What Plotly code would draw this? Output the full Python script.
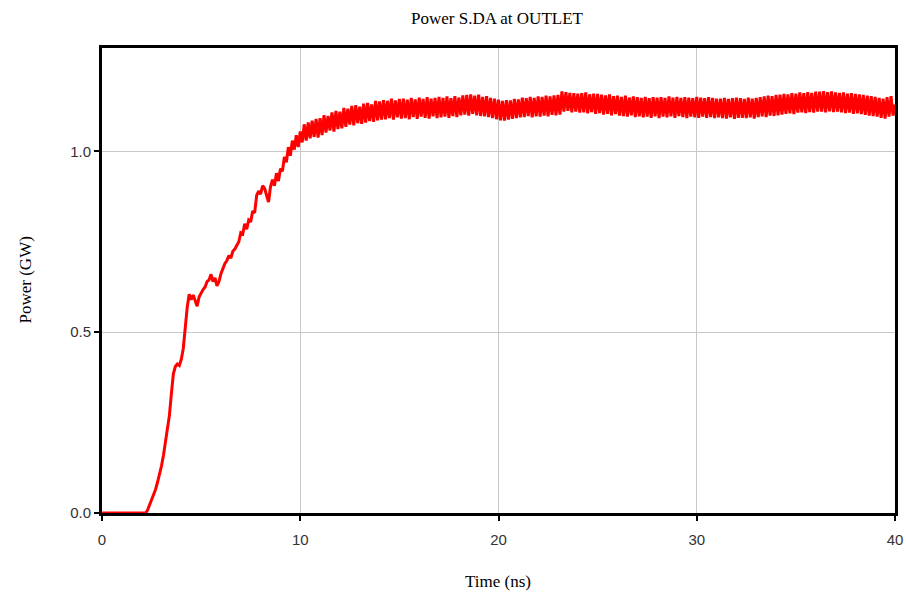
import plotly.graph_objects as go

# Power samples every 0.1 ns starting at t = 0 ns (GW)
power_flat = [0.0] * 22  # t = 0.0 .. 2.1 ns

power_rise = [
    0.000, 0.008, 0.022, 0.035, 0.050, 0.065, 0.085, 0.105, 0.130, 0.160,
    0.195, 0.225, 0.270, 0.330, 0.385, 0.405, 0.412, 0.408, 0.425, 0.455,
    0.520, 0.570, 0.605, 0.590, 0.603, 0.585, 0.572, 0.598, 0.610, 0.618,
    0.625, 0.640, 0.645, 0.660, 0.640, 0.650, 0.628, 0.640, 0.662, 0.678,
    0.690, 0.698, 0.712, 0.705, 0.724, 0.730, 0.742, 0.750, 0.775, 0.772,
    0.800, 0.785, 0.810, 0.805, 0.835, 0.830, 0.878, 0.890, 0.882, 0.905,
    0.898, 0.880, 0.860, 0.902, 0.922, 0.905, 0.940, 0.918, 0.952, 0.945,
    0.985, 0.970, 1.012, 0.988, 1.030, 1.005, 1.045, 1.012, 1.055, 1.025,
]

power_plateau = [
    1.075, 1.030, 1.080, 1.036, 1.085, 1.040, 1.090, 1.038, 1.092, 1.045,
    1.100, 1.052, 1.098, 1.058, 1.108, 1.055, 1.112, 1.062, 1.110, 1.064,
    1.120, 1.068, 1.118, 1.074, 1.126, 1.072, 1.128, 1.078, 1.124, 1.076,
    1.132, 1.080, 1.134, 1.084, 1.130, 1.082, 1.140, 1.086, 1.138, 1.088,
    1.142, 1.089, 1.140, 1.092, 1.146, 1.088, 1.141, 1.094, 1.145, 1.091,
    1.146, 1.092, 1.143, 1.089, 1.148, 1.095, 1.144, 1.090, 1.149, 1.096,
    1.145, 1.093, 1.150, 1.091, 1.146, 1.097, 1.148, 1.092, 1.151, 1.094,
    1.148, 1.096, 1.152, 1.093, 1.147, 1.098, 1.153, 1.095, 1.149, 1.100,
    1.155, 1.102, 1.156, 1.099, 1.158, 1.104, 1.154, 1.100, 1.157, 1.098,
    1.151, 1.097, 1.153, 1.095, 1.148, 1.092, 1.146, 1.089, 1.143, 1.086,
    1.140, 1.085, 1.142, 1.088, 1.141, 1.090, 1.145, 1.092, 1.144, 1.094,
    1.149, 1.095, 1.147, 1.098, 1.151, 1.094, 1.148, 1.097, 1.152, 1.096,
    1.151, 1.099, 1.154, 1.097, 1.152, 1.101, 1.155, 1.100, 1.156, 1.102,
    1.166, 1.110, 1.164, 1.112, 1.162, 1.108, 1.161, 1.110, 1.160, 1.107,
    1.161, 1.108, 1.163, 1.105, 1.158, 1.109, 1.160, 1.104, 1.159, 1.106,
    1.157, 1.102, 1.155, 1.104, 1.158, 1.100, 1.153, 1.103, 1.154, 1.099,
    1.151, 1.098, 1.154, 1.096, 1.149, 1.100, 1.152, 1.095, 1.150, 1.097,
    1.148, 1.094, 1.151, 1.096, 1.147, 1.093, 1.150, 1.097, 1.149, 1.092,
    1.150, 1.096, 1.148, 1.094, 1.152, 1.097, 1.149, 1.093, 1.151, 1.098,
    1.148, 1.095, 1.150, 1.092, 1.149, 1.096, 1.147, 1.094, 1.151, 1.093,
    1.149, 1.096, 1.147, 1.093, 1.150, 1.095, 1.148, 1.092, 1.146, 1.094,
    1.146, 1.092, 1.148, 1.091, 1.145, 1.094, 1.147, 1.090, 1.149, 1.093,
    1.147, 1.093, 1.145, 1.092, 1.149, 1.094, 1.146, 1.091, 1.148, 1.095,
    1.150, 1.097, 1.152, 1.095, 1.154, 1.099, 1.153, 1.098, 1.156, 1.100,
    1.157, 1.102, 1.159, 1.104, 1.158, 1.105, 1.161, 1.103, 1.160, 1.107,
    1.163, 1.108, 1.161, 1.106, 1.164, 1.109, 1.162, 1.107, 1.165, 1.110,
    1.165, 1.110, 1.167, 1.108, 1.164, 1.111, 1.166, 1.109, 1.163, 1.110,
    1.162, 1.108, 1.163, 1.106, 1.160, 1.107, 1.161, 1.104, 1.159, 1.105,
    1.158, 1.103, 1.156, 1.101, 1.154, 1.099, 1.153, 1.098, 1.151, 1.096,
    1.148, 1.093, 1.146, 1.091, 1.150, 1.096, 1.153, 1.099, 1.130,
]

power = power_flat + power_rise + power_plateau
time_ns = [round(i * 0.1, 1) for i in range(len(power))]

x_ticks = [0, 10, 20, 30, 40]
y_ticks = [0.0, 0.5, 1.0]
y_tick_labels = ["0.0", "0.5", "1.0"]

fig = go.Figure()
fig.add_trace(go.Scatter(
    x=time_ns, y=power, mode="lines",
    line=dict(color="#ff0000", width=3),
    showlegend=False, hoverinfo="skip",
))

serif = "Liberation Serif, Times New Roman, serif"
sans = "Liberation Sans, Arial, sans-serif"

fig.update_layout(
    width=906, height=598,
    margin=dict(l=102, r=11, t=48, b=85, autoexpand=False),
    paper_bgcolor="white", plot_bgcolor="white",
    title=dict(text="Power S.DA at OUTLET", x=497 / 906, xanchor="center",
               y=1 - 18 / 598, yanchor="middle", yref="container",
               font=dict(family=serif, size=17, color="black")),
    annotations=[
        dict(text="Time (ns)", xref="paper", yref="paper",
             x=(498 - 102) / 793, y=-(582 - 513.5) / 465.5,
             xanchor="center", yanchor="middle", showarrow=False,
             font=dict(family=serif, size=17, color="black")),
        dict(text="Power (GW)", xref="paper", yref="paper",
             x=(25 - 102) / 793, y=0.5, textangle=-90,
             xanchor="center", yanchor="middle", showarrow=False,
             font=dict(family=serif, size=17, color="black")),
    ],
)
fig.update_xaxes(
    range=[0, 40], tickvals=x_ticks, ticktext=[str(v) for v in x_ticks],
    showgrid=True, gridcolor="#c8c8c8", gridwidth=1, zeroline=False,
    showline=True, linecolor="black", linewidth=3, mirror=True,
    ticks="outside", ticklen=5, tickwidth=1.5, tickcolor="black",
    ticklabelstandoff=6, automargin=False,
    tickfont=dict(family=sans, size=15, color="#333333"),
)
fig.update_yaxes(
    range=[0, 1.286], tickvals=y_ticks, ticktext=y_tick_labels,
    showgrid=True, gridcolor="#c8c8c8", gridwidth=1, zeroline=False,
    showline=True, linecolor="black", linewidth=3, mirror=True,
    ticks="outside", ticklen=5, tickwidth=1.5, tickcolor="black",
    automargin=False,
    tickfont=dict(family=sans, size=15, color="#333333"),
)

fig.write_html("out.html")
